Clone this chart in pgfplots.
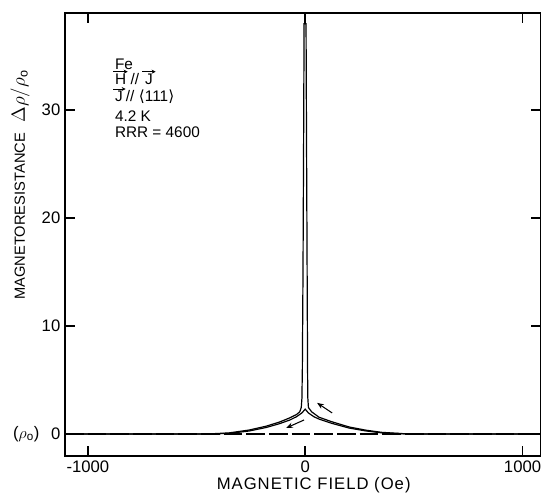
\documentclass[border=0pt]{standalone}
\usepackage{fontspec}
\setmainfont{Liberation Sans}
\newfontfamily\wide[LetterSpace=6]{Liberation Sans}
\newfontfamily\djv{DejaVu Sans}
\usepackage{pgfplots}
\pgfplotsset{compat=1.18}
\usetikzlibrary{arrows.meta}

\begin{document}
\begin{tikzpicture}
\begin{axis}[
  name=ax,
  width=357pt, height=332.25pt, scale only axis,
  xmin=-1105, xmax=1085, ymin=-2.04, ymax=39,
  xtick={-1000,0,1000}, ytick={0,10,20,30},
  tick align=inside, major tick length=7.5pt,
  axis line style={line width=1.2pt},
  every tick/.style={line width=1.1pt, black},
  /pgf/number format/assume math mode=true,
  /pgf/number format/1000 sep={},
  ticklabel style={font=\fontsize{12.5}{14}\selectfont},
  xlabel={MAGNETIC FIELD (Oe)},
  ylabel={MAGNETORESISTANCE\hspace{8pt}{\fontsize{13.5}{16}\selectfont$\Delta\rho/\rho_{\mathrm{o}}$}},
  every axis x label/.style={at={(axis description cs:0.5,0)}, anchor=base,
    xshift=8pt, yshift=-24.75pt, font=\wide\fontsize{12.5}{14}\selectfont},
  every axis y label/.style={at={(axis description cs:-0.0945,0.612)}, rotate=90,
    anchor=center, font=\fontsize{11}{13}\selectfont},
  clip=false,
]
% zero level
\addplot[black, line width=0.9pt, dash pattern=on 14pt off 3pt] coordinates {(-1105,0) (1085,0)};

% outer trace: left branch, spike, right branch
\addplot[black, line width=0.9pt] coordinates {
  (-1105,0) (-450,0) (-350,0.1) (-257,0.37) (-180,0.72) (-119,1.1)
  (-70,1.5) (-40,1.8) (-25,2.05) (-18,2.45) (-15,3.3) (-13,6)
  (-10,15) (-7,28) (-5,38)
  (4,38) (6,28) (9,15) (11,6) (12,3.4) (15,2.45) (30,2.05)
  (64,1.55) (120,1.15) (202,0.65) (280,0.35) (353,0.15) (477,0) (1085,0)
};
% inner trace
\addplot[black, line width=0.9pt] coordinates {
  (-1105,0) (-450,0) (-350,0.05) (-257,0.28) (-180,0.6) (-119,0.95)
  (-70,1.3) (-40,1.6) (-15,1.95) (0,2.3)
  (15,1.95) (40,1.6) (64,1.38) (120,1.0) (202,0.55) (280,0.28) (353,0.1) (477,0) (1085,0)
};

\draw[black, line width=0.8pt, -{Stealth[length=5pt,width=4pt]}] (axis cs:124,1.95) -- (axis cs:55,2.88);
\draw[black, line width=0.8pt, -{Stealth[length=5pt,width=4pt]}] (axis cs:-5,1.3) -- (axis cs:-87,0.56);

% sample conditions
\begin{scope}[every node/.style={anchor=base west, inner sep=0pt, font=\fontsize{11.5}{13}\selectfont}]
\node at (axis cs:-876,33.75) {Fe};
\node (h) at (axis cs:-876,32.4) {H};
\node (s1) at ([xshift=3pt]h.base east) {//};
\node (j1) at ([xshift=4pt]s1.base east) {J};
\node (j2) at (axis cs:-876,30.8) {J};
\node (s2) at ([xshift=2pt]j2.base east) {//};
\node at ([xshift=3pt]s2.base east) {{\djv ⟨}111{\djv ⟩}};
\node at (axis cs:-876,28.94) {4.2 K};
\node at (axis cs:-876,27.46) {RRR = 4600};
\end{scope}
\begin{scope}[line width=0.6pt, -{Stealth[length=3pt,width=3pt]}]
\draw ([shift={(-1pt,1.3pt)}]h.north west) -- ([shift={(1pt,1.3pt)}]h.north east);
\draw ([shift={(-2pt,1.3pt)}]j1.north west) -- ([shift={(2pt,1.3pt)}]j1.north east);
\draw ([shift={(-1pt,1.3pt)}]j2.north west) -- ([shift={(2pt,1.3pt)}]j2.north east);
\end{scope}

\node[anchor=center, font=\fontsize{12.5}{14}\selectfont] at ([xshift=-29pt]axis cs:-1105,0) {($\rho_{\mathrm{o}}$)};
\end{axis}
\pgfresetboundingbox
\useasboundingbox ([xshift=-48.75pt,yshift=-27.75pt]ax.south west) rectangle ([yshift=9.75pt]ax.north east);
\end{tikzpicture}
\end{document}
